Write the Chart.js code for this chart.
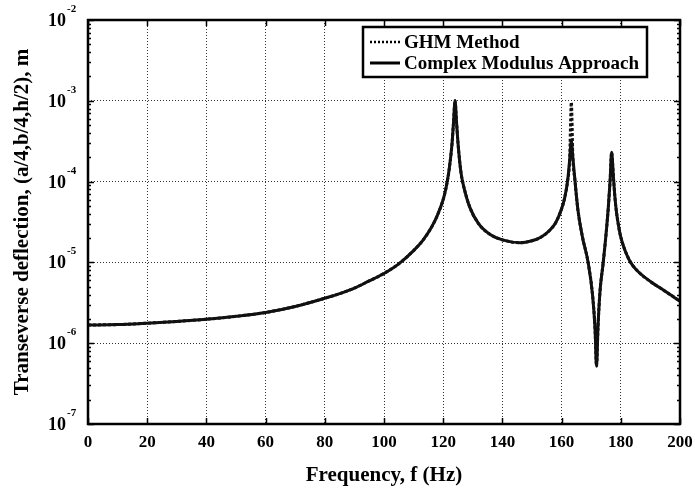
<!DOCTYPE html>
<html>
<head>
<meta charset="utf-8">
<script src="https://cdn.jsdelivr.net/npm/chart.js@4.4.0/dist/chart.umd.min.js"></script>
<style>
    html, body { margin: 0; padding: 0; background: #fff; }
</style>
</head>
<body>
<canvas id="fracChart" width="695" height="490"></canvas>
<script>
// Frequency points (Hz)
const freq = [0, 10, 20, 30, 40, 50, 60, 70, 80, 85, 90, 95, 100, 105, 110, 113, 116, 118, 120, 121,
    122, 123, 123.5, 124, 124.5, 125, 126, 127, 129, 132, 136, 140, 146, 150, 153, 156, 158, 160, 161, 162,
    162.7, 163.3, 163.8, 164.5, 165.5, 167, 169, 170.5, 171.3, 171.8, 172.3, 173, 174, 175, 175.8, 176.4,
    176.9, 177.5, 178, 178.5, 179, 179.5, 180, 181, 182, 183, 184, 186, 190, 195, 200];

// Complex modulus approach (solid)
const complexModulus = [1.68e-6, 1.70e-6, 1.77e-6, 1.86e-6, 1.98e-6, 2.15e-6, 2.4e-6, 2.85e-6, 3.6e-6, 4.1e-6,
    4.8e-6, 5.9e-6, 7.3e-6, 9.6e-6, 1.4e-5, 1.85e-5, 2.7e-5, 3.8e-5, 6.0e-5, 8.5e-5,
    1.4e-4, 3.0e-4, 5.5e-4, 1.0e-3, 5.5e-4, 3.0e-4, 1.3e-4, 8.5e-5, 4.8e-5, 3.0e-5,
    2.2e-5, 1.9e-5, 1.75e-5, 1.85e-5, 2.05e-5, 2.5e-5, 3.1e-5, 4.6e-5, 6.2e-5, 1.0e-4,
    1.8e-4, 3.2e-4, 2.0e-4, 1.05e-4, 4.5e-5, 2.1e-5, 9.8e-6, 3.8e-6, 1.5e-6, 5.2e-7,
    1.6e-6, 4.5e-6, 9.5e-6, 2.2e-5, 4.9e-5, 1.05e-4, 2.3e-4, 1.15e-4, 6.5e-5, 4.3e-5,
    3.2e-5, 2.5e-5, 2.05e-5, 1.55e-5, 1.25e-5, 1.05e-5, 9.2e-6, 7.6e-6, 5.8e-6, 4.4e-6, 3.3e-6];

// GHM method (dotted) - same except the second peak
const ghmMethod = [1.68e-6, 1.70e-6, 1.77e-6, 1.86e-6, 1.98e-6, 2.15e-6, 2.4e-6, 2.85e-6, 3.6e-6, 4.1e-6,
    4.8e-6, 5.9e-6, 7.3e-6, 9.6e-6, 1.4e-5, 1.85e-5, 2.7e-5, 3.8e-5, 6.0e-5, 8.5e-5,
    1.4e-4, 3.0e-4, 5.5e-4, 1.0e-3, 5.5e-4, 3.0e-4, 1.3e-4, 8.5e-5, 4.8e-5, 3.0e-5,
    2.2e-5, 1.9e-5, 1.75e-5, 1.85e-5, 2.05e-5, 2.5e-5, 3.1e-5, 4.6e-5, 6.2e-5, 1.0e-4,
    1.8e-4, 9.6e-4, 2.0e-4, 1.05e-4, 4.5e-5, 2.1e-5, 9.8e-6, 3.8e-6, 1.5e-6, 5.2e-7,
    1.6e-6, 4.5e-6, 9.5e-6, 2.2e-5, 4.9e-5, 1.05e-4, 2.3e-4, 1.15e-4, 6.5e-5, 4.3e-5,
    3.2e-5, 2.5e-5, 2.05e-5, 1.55e-5, 1.25e-5, 1.05e-5, 9.2e-6, 7.6e-6, 5.8e-6, 4.4e-6, 3.3e-6];

// Tick labels
const xTicks = [0, 20, 40, 60, 80, 100, 120, 140, 160, 180, 200];
const yExponents = [-7, -6, -5, -4, -3, -2];

const seriesNames = ['GHM Method', 'Complex Modulus Approach'];
const FONT = '"Liberation Serif", "Times New Roman", serif';

function toPoints(values) {
    return freq.map((f, i) => ({ x: f, y: values[i] }));
}

// Frame, inward ticks, superscript y labels and boxed legend
const framePlugin = {
    id: 'frame',
    afterDraw(chart) {
        const ctx = chart.ctx;
        const area = chart.chartArea;
        const xs = chart.scales.x;
        const ys = chart.scales.y;
        ctx.save();
        ctx.strokeStyle = '#000';

        // ticks
        ctx.lineWidth = 1.5;
        ctx.beginPath();
        xTicks.forEach(t => {
            const px = Math.round(xs.getPixelForValue(t)) + 0.5;
            ctx.moveTo(px, area.bottom); ctx.lineTo(px, area.bottom - 6);
            ctx.moveTo(px, area.top); ctx.lineTo(px, area.top + 6);
        });
        yExponents.forEach(e => {
            const py = Math.round(ys.getPixelForValue(Math.pow(10, e))) + 0.5;
            ctx.moveTo(area.left, py); ctx.lineTo(area.left + 6, py);
            ctx.moveTo(area.right, py); ctx.lineTo(area.right - 6, py);
            if (e < -2) {
                for (let m = 2; m <= 9; m++) {
                    const my = Math.round(ys.getPixelForValue(m * Math.pow(10, e))) + 0.5;
                    ctx.moveTo(area.left, my); ctx.lineTo(area.left + 3, my);
                    ctx.moveTo(area.right, my); ctx.lineTo(area.right - 3, my);
                }
            }
        });
        ctx.stroke();

        // frame
        ctx.lineWidth = 2.5;
        ctx.strokeRect(area.left, area.top, area.right - area.left, area.bottom - area.top);

        // y tick labels 10^n
        ctx.fillStyle = '#000';
        ctx.textBaseline = 'alphabetic';
        yExponents.forEach(e => {
            const py = ys.getPixelForValue(Math.pow(10, e));
            ctx.font = 'bold 18px ' + FONT;
            ctx.textAlign = 'right';
            ctx.fillText('10', 66, py + 6);
            ctx.font = 'bold 11px ' + FONT;
            ctx.textAlign = 'left';
            ctx.fillText(String(e), 67, py - 8);
        });

        // legend box
        const lx = 363, ly = 27, lw = 284, lh = 50;
        ctx.fillStyle = '#fff';
        ctx.fillRect(lx, ly, lw, lh);
        ctx.lineWidth = 2.5;
        ctx.strokeRect(lx, ly, lw, lh);
        const rows = [42, 63];
        chart.data.datasets.forEach((ds, i) => {
            ctx.beginPath();
            ctx.lineWidth = i === 0 ? 2.5 : 3;
            ctx.setLineDash(i === 0 ? [2, 2] : []);
            ctx.moveTo(370, rows[i]);
            ctx.lineTo(400, rows[i]);
            ctx.stroke();
            ctx.setLineDash([]);
            ctx.fillStyle = '#000';
            ctx.font = 'bold 19px ' + FONT;
            ctx.textAlign = 'left';
            ctx.textBaseline = 'middle';
            ctx.fillText(ds.label, 404, rows[i] + 1);
        });
        ctx.restore();
    }
};

const ctx = document.getElementById('fracChart').getContext('2d');
const fracChart = new Chart(ctx, {
    type: 'line',
    data: {
        datasets: [
            {
                label: seriesNames[0],
                data: toPoints(ghmMethod),
                borderColor: '#111',
                borderWidth: 3,
                borderDash: [3, 2],
                pointRadius: 0,
                cubicInterpolationMode: 'monotone',
                fill: false
            },
            {
                label: seriesNames[1],
                data: toPoints(complexModulus),
                borderColor: '#111',
                borderWidth: 3,
                pointRadius: 0,
                cubicInterpolationMode: 'monotone',
                fill: false
            }
        ]
    },
    options: {
        responsive: false,
        animation: false,
        layout: { padding: { top: 20, right: 15, left: 0, bottom: 0 } },
        plugins: {
            legend: { display: false },
            tooltip: { enabled: false }
        },
        scales: {
            x: {
                type: 'linear',
                min: 0,
                max: 200,
                afterBuildTicks: scale => { scale.ticks = xTicks.map(v => ({ value: v })); },
                afterFit: scale => {
                    scale.height = 66;
                    scale.paddingRight = 0;
                    scale.paddingLeft = 0;
                },
                ticks: {
                    color: '#000',
                    font: { family: FONT, size: 17, weight: 'bold' },
                    padding: 8,
                    maxRotation: 0
                },
                grid: { color: '#333', lineWidth: 1, drawTicks: false },
                border: { display: false, dash: [1, 2] },
                title: {
                    display: true,
                    text: 'Frequency, f (Hz)',
                    color: '#000',
                    font: { family: FONT, size: 21, weight: 'bold' },
                    padding: { top: 0, bottom: 2 }
                }
            },
            y: {
                type: 'logarithmic',
                min: 1e-7,
                max: 1e-2,
                afterBuildTicks: scale => { scale.ticks = yExponents.map(e => ({ value: Math.pow(10, e) })); },
                afterFit: scale => { scale.width = 88; },
                ticks: { display: false },
                grid: { color: '#333', lineWidth: 1, drawTicks: false },
                border: { display: false, dash: [1, 2] },
                title: {
                    display: true,
                    text: 'Transeverse deflection, (a/4,b/4,h/2), m',
                    color: '#000',
                    font: { family: FONT, size: 21, weight: 'bold' },
                    padding: { top: 10, bottom: 0 }
                }
            }
        }
    },
    plugins: [framePlugin]
});
</script>
</body>
</html>
